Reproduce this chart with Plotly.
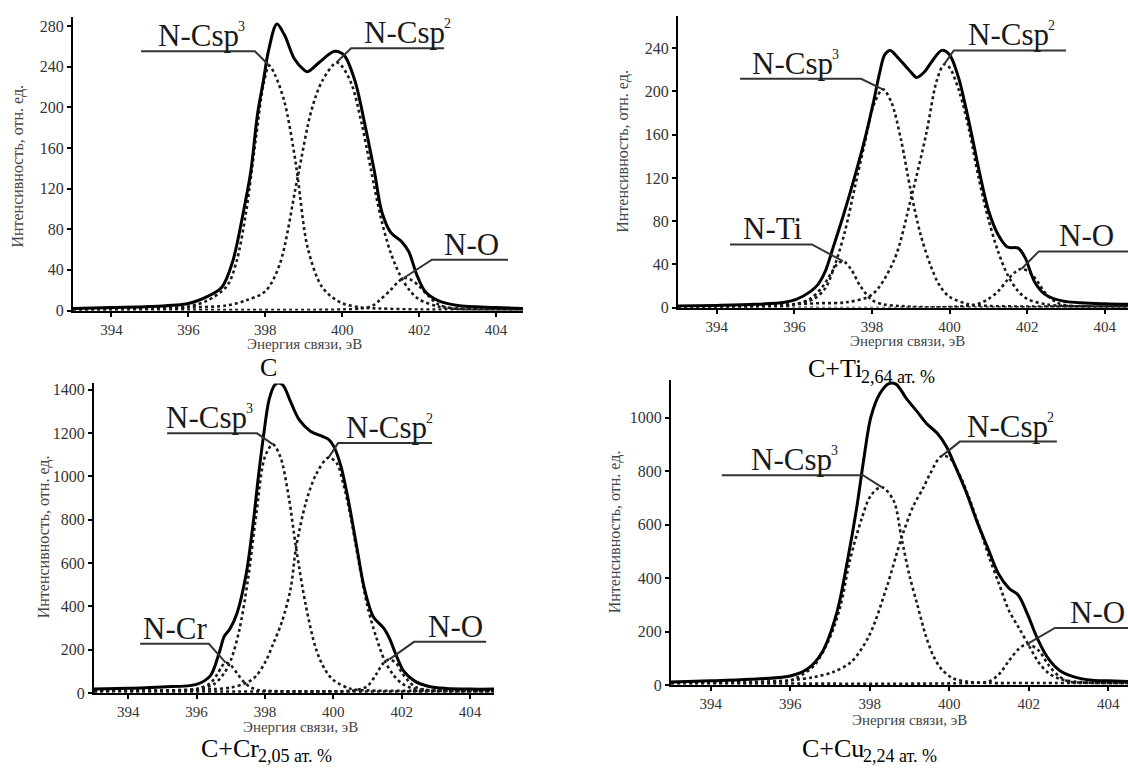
import plotly.graph_objects as go

# ---------------- Panel "C" ----------------
c_env_E = [393, 394, 395, 396, 396.5, 396.87, 397.15, 397.43, 397.62, 397.8, 397.95, 398.08, 398.3, 398.5,
           398.75, 399.0, 399.1, 399.4, 399.8, 400.05, 400.33, 400.6, 400.84, 401.03, 401.26, 401.54, 401.73,
           401.93, 402.15, 402.48, 403, 404, 404.7]
c_env_I = [2, 3, 4, 7, 14, 23, 48, 97, 136, 194, 226, 255, 282, 271, 248, 237, 235, 244, 255, 251, 226, 181,
           136, 97, 77, 68, 58, 36, 19, 10, 5, 3, 2]
c_csp3_E = [393, 394, 395, 396, 396.5, 397, 397.25, 397.5, 397.75, 397.95, 398.1, 398.25, 398.5, 398.75, 398.85,
            399.1, 399.48, 399.95, 400.5, 401, 402, 403, 404, 404.7]
c_csp3_I = [1, 1.5, 2, 4, 10, 24, 48, 97, 168, 222, 241, 232, 205, 155, 129, 62, 23, 8, 3, 2, 1, 1, 1, 1]
c_csp2_E = [393, 395, 396, 397, 397.5, 398, 398.37, 398.83, 399.2, 399.48, 399.85, 400.0, 400.25, 400.5, 400.75,
            401, 401.25, 401.5, 401.75, 402, 402.5, 403, 404, 404.7]
c_csp2_I = [1, 2, 3, 5, 10, 19, 45, 129, 197, 226, 244, 240, 222, 185, 138, 92, 58, 35, 20, 11, 4, 2, 1, 1]
c_no_E = [393, 399, 400, 400.5, 400.8, 401, 401.25, 401.45, 401.6, 401.8, 402, 402.25, 402.5, 402.8, 403.2, 404, 404.7]
c_no_I = [0.5, 0.5, 1, 2, 5, 11, 20, 28, 32, 30, 24, 14, 6, 2.5, 1, 0.5, 0.5]

# ---------------- Panel "C+Ti" ----------------
ti_env_E = [393, 394, 395, 395.75, 396.05, 396.42, 396.6, 396.79, 397.02, 397.26, 397.53, 397.81, 398.05, 398.19,
            398.33, 398.47, 398.7, 399.0, 399.15, 399.35, 399.55, 399.8, 400.0, 400.23, 400.42, 400.6, 400.79,
            401.02, 401.26, 401.49, 401.77, 401.95, 402.19, 402.47, 402.93, 404, 404.6]
ti_env_I = [1.5, 2, 3, 5, 7.6, 15, 21, 33, 58, 85, 118, 155, 192, 216, 234, 238, 230, 218, 213, 218, 228, 238,
            234, 213, 185, 155, 122, 88, 67, 56, 55, 46, 24, 12, 6, 3.6, 3]
ti_nti_E = [393, 395, 396, 396.4, 396.7, 396.95, 397.1, 397.25, 397.45, 397.7, 398.0, 398.3, 398.7, 399.2, 404.6]
ti_nti_I = [0.5, 1, 3, 8, 18, 32, 40, 43, 36, 20, 7, 3, 1.5, 0.5, 0.5]
ti_csp3_E = [393, 395, 396, 396.5, 396.8, 397.05, 397.3, 397.55, 397.8, 398.05, 398.28, 398.5, 398.75, 399.0,
             399.25, 399.5, 399.75, 400, 400.5, 401, 402, 403, 404.6]
ti_csp3_I = [1, 1.5, 3, 8, 18, 40, 70, 110, 150, 188, 202, 190, 155, 108, 68, 40, 20, 10, 3, 1.5, 1, 1, 1]
ti_csp2_E = [393, 395, 396.6, 397.35, 398.0, 398.56, 399.02, 399.4, 399.67, 399.86, 400.0, 400.25, 400.5, 400.75,
             401, 401.25, 401.5, 401.75, 402, 402.5, 403, 404.6]
ti_csp2_I = [1, 2, 4, 5, 12, 43, 103, 161, 210, 225, 222, 200, 165, 120, 82, 52, 30, 16, 8, 3, 1.5, 1]
ti_no_E = [393, 400, 400.7, 401, 401.25, 401.5, 401.7, 401.86, 402.05, 402.25, 402.5, 402.75, 403, 403.5, 404.6]
ti_no_I = [0.5, 0.5, 3, 8, 15, 26, 33, 36, 33, 25, 12, 5, 2, 1, 0.5]

# ---------------- Panel "C+Cr" ----------------
cr_env_E = [393, 394, 395, 396, 396.4, 396.66, 396.81, 396.97, 397.18, 397.45, 397.65, 397.81, 397.97, 398.12,
            398.28, 398.4, 398.54, 398.75, 399.0, 399.33, 399.65, 399.86, 400.01, 400.22, 400.43, 400.69, 400.9,
            401.17, 401.48, 401.64, 401.85, 402.06, 402.37, 402.8, 403.3, 404, 404.7]
cr_env_I = [18, 22, 28, 40, 79, 185, 261, 294, 367, 548, 776, 1000, 1200, 1352, 1420, 1430, 1418, 1344, 1261,
            1208, 1186, 1170, 1139, 1048, 897, 670, 488, 352, 298, 253, 170, 101, 56, 30, 21, 18, 18]
cr_ncr_E = [393, 395, 395.8, 396.1, 396.4, 396.6, 396.75, 396.85, 397.0, 397.2, 397.4, 397.6, 397.8, 398.1, 398.5, 404.7]
cr_ncr_I = [10, 11, 14, 22, 45, 85, 125, 140, 128, 88, 48, 25, 14, 10, 8, 8]
cr_csp3_E = [393, 395, 396, 396.5, 396.8, 397.0, 397.25, 397.5, 397.75, 398.0, 398.23, 398.45, 398.7, 398.91,
             399.2, 399.5, 399.75, 400.0, 400.5, 401, 402, 404.7]
cr_csp3_I = [10, 12, 18, 40, 90, 150, 290, 520, 830, 1090, 1147, 1090, 900, 670, 400, 200, 110, 60, 20, 12, 10, 10]
cr_csp2_E = [393, 395, 396, 396.5, 397.0, 397.5, 397.75, 398.0, 398.25, 398.5, 398.75, 398.91, 399.2, 399.5,
             399.86, 400.1, 400.3, 400.5, 400.75, 401.0, 401.25, 401.5, 401.75, 402.0, 402.3, 402.7, 403.2, 404.7]
cr_csp2_I = [10, 12, 15, 18, 25, 50, 80, 140, 230, 330, 480, 670, 880, 1010, 1086, 1060, 960, 820, 600, 400,
             260, 150, 85, 45, 22, 14, 11, 10]
cr_no_E = [393, 400, 400.5, 400.8, 401.0, 401.25, 401.45, 401.64, 401.85, 402.0, 402.2, 402.4, 402.7, 403.2, 404.7]
cr_no_I = [8, 8, 10, 18, 32, 85, 135, 155, 135, 95, 55, 28, 14, 10, 8]

# ---------------- Panel "C+Cu" ----------------
cu_env_E = [393, 394, 395, 396, 396.44, 396.8, 397.17, 397.44, 397.67, 397.85, 398.03, 398.25, 398.48, 398.66,
            398.93, 399.2, 399.43, 399.7, 399.93, 400.15, 400.43, 400.7, 400.97, 401.24, 401.51, 401.74, 401.96,
            402.23, 402.5, 402.78, 403.14, 403.6, 404, 404.5]
cu_env_I = [12, 16, 22, 34, 61, 122, 269, 465, 660, 843, 1002, 1088, 1127, 1125, 1070, 1021, 978, 941, 892, 819,
            721, 611, 513, 416, 361, 336, 269, 171, 98, 55, 31, 18, 16, 14]
cu_csp3_E = [393, 395, 396, 396.2, 396.6, 396.98, 397.26, 397.5, 397.8, 398.03, 398.3, 398.6, 398.8, 399.0,
             399.2, 399.4, 399.6, 399.8, 400.1, 400.5, 401, 402, 404.5]
cu_csp3_I = [8, 10, 18, 30, 73, 171, 293, 465, 623, 709, 740, 690, 550, 410, 300, 190, 110, 61, 25, 12, 8, 8, 8]
cu_csp2_E = [393, 395, 396, 396.6, 397.08, 397.53, 397.98, 398.43, 398.8, 399.1, 399.34, 399.52, 399.8, 400.0,
             400.25, 400.5, 400.75, 401, 401.25, 401.5, 401.75, 402, 402.25, 402.5, 402.75, 403, 403.5, 404.5]
cu_csp2_I = [8, 12, 18, 30, 49, 86, 183, 367, 550, 670, 735, 790, 855, 850, 790, 700, 595, 480, 380, 280, 215,
             150, 85, 45, 25, 16, 10, 8]
cu_no_E = [393, 400.5, 401.0, 401.25, 401.5, 401.75, 401.96, 402.25, 402.5, 402.75, 403.0, 403.5, 404.5]
cu_no_I = [8, 8, 14, 40, 90, 135, 153, 130, 75, 35, 14, 9, 8]

# ---------------- Text ----------------
x_title = "Энергия связи, эВ"
y_title = "Интенсивность, отн. ед."
energy_ticks = [394, 396, 398, 400, 402, 404]

W, H = 1128, 772
SERIF = "Liberation Serif, Tinos, Times New Roman, DejaVu Serif, serif"
INK = "#1a1a1a"
LABEL_SIZE, SUP_SIZE = 31, 14
CAP_SIZE, SUB_SIZE = 26, 18

# Each panel: curves, plot box in pixels (left, right, top, bottom), ranges,
# caption (main, subscript, centre px, main/subscript joint offset px),
# axis-title centres in pixels, and peak labels.
# Label tuple: (curve key, text, superscript, text centre E, underline E0, underline E1, underline I)
panels = [
    dict(ax="", env=(c_env_E, c_env_I),
         comps={"sp3": (c_csp3_E, c_csp3_I), "sp2": (c_csp2_E, c_csp2_I), "no": (c_no_E, c_no_I)},
         box=(73, 523, 15, 313), xr=[393, 404.7], yr=[0, 289], yticks=list(range(0, 281, 40)),
         caption=("C", "", (268, 371), 0), xt_xy=(304, 347), yt_xy=(18, 167),
         labels=[("sp3", "N-Csp", "3", 396.35, 394.77, 397.73, 255),
                 ("sp2", "N-Csp", "2", 401.71, 400.23, 402.65, 258),
                 ("no", "N-O", "", 403.35, 402.33, 404.31, 50)]),
    dict(ax="2", env=(ti_env_E, ti_env_I),
         comps={"ti": (ti_nti_E, ti_nti_I), "sp3": (ti_csp3_E, ti_csp3_I), "sp2": (ti_csp2_E, ti_csp2_I),
                "no": (ti_no_E, ti_no_I)},
         box=(678, 1128, 14, 310), xr=[393, 404.6], yr=[0, 270], yticks=list(range(0, 241, 40)),
         caption=("C+Ti", "2,64 ат. %", (872, 372), -8), xt_xy=(907, 344), yt_xy=(623, 152),
         labels=[("sp3", "N-Csp", "3", 396.04, 394.6, 397.72, 211.7),
                 ("sp2", "N-Csp", "2", 401.61, 400.11, 403.0, 238),
                 ("ti", "N-Ti", "", 395.45, 394.34, 396.45, 58.4),
                 ("no", "N-O", "", 403.52, 402.3, 404.6, 52)]),
    dict(ax="3", env=(cr_env_E, cr_env_I),
         comps={"cr": (cr_ncr_E, cr_ncr_I), "sp3": (cr_csp3_E, cr_csp3_I), "sp2": (cr_csp2_E, cr_csp2_I),
                "no": (cr_no_E, cr_no_I)},
         box=(94, 494, 387, 701), xr=[393, 404.7], yr=[0, 1428], yticks=list(range(0, 1401, 200)),
         caption=("C+Cr", "2,05 ат. %", (268, 757), -7), xt_xy=(300, 735), yt_xy=(44, 543),
         labels=[("sp3", "N-Csp", "3", 396.39, 395.14, 397.77, 1198),
                 ("sp2", "N-Csp", "2", 401.66, 400.14, 402.89, 1153),
                 ("cr", "N-Cr", "", 395.37, 394.35, 396.36, 227),
                 ("no", "N-O", "", 403.56, 402.36, 404.47, 236)]),
    dict(ax="4", env=(cu_env_E, cu_env_I),
         comps={"sp3": (cu_csp3_E, cu_csp3_I), "sp2": (cu_csp2_E, cu_csp2_I), "no": (cu_no_E, cu_no_I)},
         box=(671, 1128, 383, 693), xr=[393, 404.5], yr=[0, 1142], yticks=list(range(0, 1001, 200)),
         caption=("C+Cu", "2,24 ат. %", (871, 757), -5), xt_xy=(909, 728), yt_xy=(615, 538),
         labels=[("sp3", "N-Csp", "3", 396.12, 394.28, 397.83, 784.5),
                 ("sp2", "N-Csp", "2", 401.56, 400.27, 402.71, 910),
                 ("no", "N-O", "", 403.72, 402.66, 404.5, 213.6)]),
]

fig = go.Figure()
layout = dict(width=W, height=H, margin=dict(l=0, r=0, t=0, b=0), paper_bgcolor="white",
              plot_bgcolor="white", showlegend=False, font=dict(family=SERIF, color=INK))
annotations, shapes = [], []


def paper_text(text, xy, size, color, angle=0, xanchor="center", xshift=0):
    return dict(text=text, x=xy[0] / W, y=1 - xy[1] / H, xref="paper", yref="paper",
                xanchor=xanchor, yanchor="middle", showarrow=False, textangle=angle, xshift=xshift,
                font=dict(family=SERIF, size=size, color=color))


for p in panels:
    xa, ya = "x" + p["ax"], "y" + p["ax"]
    # dotted component peaks
    for E, I in p["comps"].values():
        fig.add_trace(go.Scatter(x=E, y=I, mode="lines", xaxis=xa, yaxis=ya, hoverinfo="skip",
                                 line=dict(color=INK, width=2.6, dash="dot", shape="spline", smoothing=0.9)))
    # measured envelope
    E, I = p["env"]
    fig.add_trace(go.Scatter(x=E, y=I, mode="lines", xaxis=xa, yaxis=ya, hoverinfo="skip",
                             line=dict(color="black", width=3, shape="spline", smoothing=0.9)))

    x0, x1, ytop, ybot = p["box"]
    common = dict(showline=True, linecolor="black", linewidth=2, ticks="outside", ticklen=4, tickwidth=1.5,
                  tickcolor="black", showgrid=False, zeroline=False, fixedrange=True)
    layout["xaxis" + p["ax"]] = dict(domain=[x0 / W, x1 / W], anchor=ya, range=p["xr"],
                                     tickvals=energy_ticks,
                                     tickfont=dict(family=SERIF, size=15, color="#333"), **common)
    layout["yaxis" + p["ax"]] = dict(domain=[1 - ybot / H, 1 - ytop / H], anchor=xa, range=p["yr"],
                                     tickvals=p["yticks"],
                                     tickfont=dict(family=SERIF, size=16, color="#333"), **common)

    # axis titles
    annotations.append(paper_text(x_title, p["xt_xy"], 15, "#444"))
    annotations.append(paper_text(y_title, p["yt_xy"], 16, "#444", angle=-90))

    # caption under the panel: main text and a lowered, smaller composition part
    main, sub, (cx, cy), joint = p["caption"]
    if sub:
        annotations.append(paper_text(main, (cx + joint, cy), CAP_SIZE, "black", xanchor="right"))
        annotations.append(paper_text(sub, (cx + joint, cy + 8), SUB_SIZE, "black", xanchor="left",
                                      xshift=-5))
    else:
        annotations.append(paper_text(main, (cx, cy), CAP_SIZE, "black"))

    # peak labels with an underline and a leader to the component maximum
    for key, text, sup, tx, e0, e1, ly in p["labels"]:
        cE, cI = p["comps"][key]
        k = max(range(len(cI)), key=lambda i: cI[i])
        pe, pi = cE[k], cI[k]
        if pe > e1:
            path = f"M {e0},{ly} L {e1},{ly} L {pe},{pi}"
        else:
            path = f"M {e1},{ly} L {e0},{ly} L {pe},{pi}"
        shapes.append(dict(type="path", path=path, xref=xa, yref=ya,
                           line=dict(color="#333", width=2)))
        base = dict(x=tx, y=ly, xref=xa, yref=ya, yanchor="bottom", showarrow=False)
        if sup:
            annotations.append(dict(text=text, xanchor="right", xshift=39, yshift=-4,
                                    font=dict(family=SERIF, size=LABEL_SIZE, color=INK), **base))
            annotations.append(dict(text=sup, xanchor="left", xshift=34, yshift=15,
                                    font=dict(family=SERIF, size=SUP_SIZE, color=INK), **base))
        else:
            annotations.append(dict(text=text, xanchor="center", yshift=-4,
                                    font=dict(family=SERIF, size=LABEL_SIZE, color=INK), **base))

layout["annotations"] = annotations
layout["shapes"] = shapes
fig.update_layout(**layout)
fig.write_html("out.html")
